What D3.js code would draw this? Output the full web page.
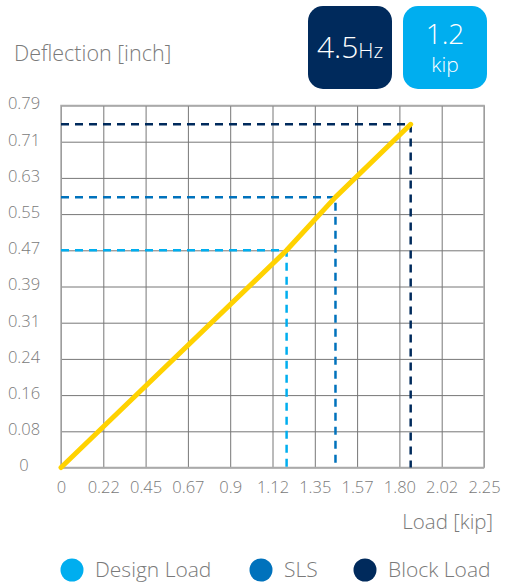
<!DOCTYPE html>
<html lang="en">
<head>
    <meta charset="UTF-8">
    <title>Deflection vs Load</title>
    <script src="https://cdnjs.cloudflare.com/ajax/libs/d3/7.8.5/d3.min.js"></script>
    <style>
        body { margin: 0; background: #fff; }
        svg text { font-family: 'Open Sans', Lato, sans-serif; font-weight: 300; fill: #7a7a7a; }
    </style>
</head>
<body>
<div id="chart"></div>
<script>
    // Axis labels as printed on the chart
    const xLabels = ['0', '0.22', '0.45', '0.67', '0.9', '1.12', '1.35', '1.57', '1.80', '2.02', '2.25'];
    const yLabels = ['0', '0.08', '0.16', '0.24', '0.31', '0.39', '0.47', '0.55', '0.63', '0.71', '0.79'];
    const xMax = 2.25;
    const yMax = 0.79;

    // Load-deflection curve [kip, inch]
    const curveLoad = [0, 1.2, 1.46, 1.86];
    const curveDefl = [0, 0.474, 0.59, 0.749];

    // Marked load cases
    const caseNames = ['Design Load', 'SLS', 'Block Load'];
    const caseLoad = [1.2, 1.46, 1.86];
    const caseDefl = [0.474, 0.59, 0.749];
    const caseColours = ['#00aeef', '#0072bc', '#002a5c'];

    // Badges at top right
    const badgeMain = ['4.5', '1.2'];
    const badgeUnit = ['Hz', 'kip'];

    const width = 505, height = 588;
    const margin = { left: 61, right: 21, top: 105.5, bottom: 120.5 };
    const innerW = width - margin.left - margin.right;
    const innerH = height - margin.top - margin.bottom;

    const svg = d3.select('#chart').append('svg')
        .attr('width', width)
        .attr('height', height);

    const x = d3.scaleLinear().domain([0, xMax]).range([0, innerW]);
    const y = d3.scaleLinear().domain([0, yMax]).range([innerH, 0]);

    const xTicks = xLabels.map((d, i) => i * xMax / (xLabels.length - 1));
    const yTicks = yLabels.map((d, i) => i * yMax / (yLabels.length - 1));

    const g = svg.append('g').attr('transform', `translate(${margin.left},${margin.top})`);

    // grid
    g.append('g')
        .attr('transform', `translate(0,${innerH})`)
        .call(d3.axisBottom(x).tickValues(xTicks).tickSize(-innerH).tickFormat(''))
        .call(s => s.select('.domain').remove())
        .selectAll('line').attr('stroke', '#777').attr('stroke-width', 1);
    g.append('g')
        .call(d3.axisLeft(y).tickValues(yTicks).tickSize(-innerW).tickFormat(''))
        .call(s => s.select('.domain').remove())
        .selectAll('line').attr('stroke', '#777').attr('stroke-width', 1);

    g.append('rect')
        .attr('width', innerW).attr('height', innerH)
        .attr('fill', 'none').attr('stroke', '#aaa').attr('stroke-width', 1.5);

    // tick labels
    g.append('g')
        .attr('transform', `translate(0,${innerH})`)
        .call(d3.axisBottom(x).tickValues(xTicks).tickSize(0).tickPadding(14)
            .tickFormat((d, i) => xLabels[i]))
        .call(s => s.select('.domain').remove())
        .selectAll('text').attr('font-size', 16.5).style('fill', '#7a7a7a');
    g.append('g')
        .call(d3.axisLeft(y).tickValues(yTicks).tickSize(0).tickPadding(0)
            .tickFormat((d, i) => yLabels[i]))
        .call(s => s.select('.domain').remove())
        .selectAll('text')
        .attr('font-size', 16.5)
        .attr('text-anchor', 'middle')
        .attr('x', 24 - margin.left)
        .attr('dy', '0.2em')
        .style('fill', '#7a7a7a');

    // dashed guides for each load case
    caseLoad.forEach((c, i) => {
        g.append('path')
            .attr('d', `M0,${y(caseDefl[i])}H${x(c)}V${innerH}`)
            .attr('fill', 'none')
            .attr('stroke', caseColours[i])
            .attr('stroke-width', 2.5)
            .attr('stroke-dasharray', '8,6');
    });

    // load-deflection line
    const line = d3.line().x((d, i) => x(curveLoad[i])).y(d => y(d));
    g.append('path')
        .datum(curveDefl)
        .attr('d', line)
        .attr('fill', 'none')
        .attr('stroke', '#ffd200')
        .attr('stroke-width', 5)
        .attr('stroke-linecap', 'round')
        .attr('stroke-linejoin', 'round');

    // axis titles
    svg.append('text')
        .attr('x', 14).attr('y', 61)
        .attr('font-size', 21.5)
        .text('Deflection [inch]');
    svg.append('text')
        .attr('x', 493).attr('y', 529)
        .attr('font-size', 20.5)
        .attr('text-anchor', 'end')
        .text('Load [kip]');

    // badges
    const badgeX = [308, 403];
    const badgeFill = ['#002a5c', '#00aeef'];
    badgeMain.forEach((b, i) => {
        svg.append('rect')
            .attr('x', badgeX[i]).attr('y', 6)
            .attr('width', 84).attr('height', 83)
            .attr('rx', 15)
            .attr('fill', badgeFill[i]);
    });
    svg.append('text')
        .attr('x', 350).attr('y', 58)
        .attr('text-anchor', 'middle')
        .style('fill', '#fff')
        .call(t => t.append('tspan').attr('font-size', 30).text(badgeMain[0]))
        .call(t => t.append('tspan').attr('font-size', 21).text(badgeUnit[0]));
    svg.append('text')
        .attr('x', 445).attr('y', 44)
        .attr('text-anchor', 'middle')
        .attr('font-size', 28)
        .style('fill', '#fff')
        .text(badgeMain[1]);
    svg.append('text')
        .attr('x', 445).attr('y', 72)
        .attr('text-anchor', 'middle')
        .attr('font-size', 21)
        .style('fill', '#fff')
        .text(badgeUnit[1]);

    // legend
    const legendX = [72, 261, 365];
    const legend = svg.append('g').selectAll('g')
        .data(caseNames)
        .join('g')
        .attr('transform', (d, i) => `translate(${legendX[i]},570)`);
    legend.append('circle')
        .attr('r', 11.5)
        .attr('fill', (d, i) => caseColours[i]);
    legend.append('text')
        .attr('x', 23)
        .attr('dy', '0.35em')
        .attr('font-size', 21)
        .text(d => d);
</script>
</body>
</html>
